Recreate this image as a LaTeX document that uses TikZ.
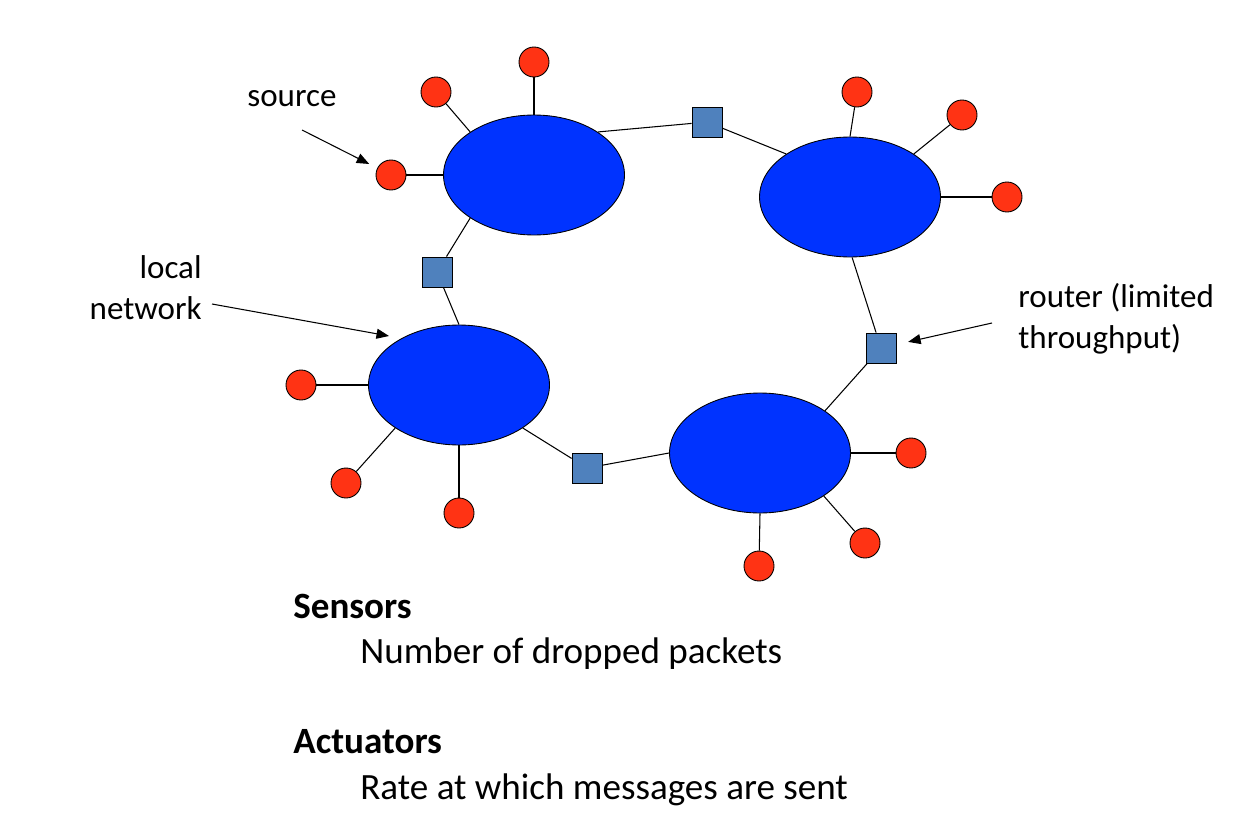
\documentclass[tikz,border=0pt]{standalone}
\usepackage{fontspec}
\setmainfont{Carlito}
\usetikzlibrary{arrows.meta,shapes.geometric}
\definecolor{netblue}{RGB}{0,51,255}
\definecolor{srcred}{RGB}{255,51,20}
\definecolor{rtblue}{RGB}{79,129,189}
\begin{document}
\begin{tikzpicture}[x=0.02cm,y=-0.02cm,
  net/.style={ellipse, draw=black, line width=0.5pt, fill=netblue, minimum width=3.62cm, minimum height=2.4cm, inner sep=0},
  src/.style={circle, draw=black, line width=0.5pt, fill=srcred, minimum size=0.6cm, inner sep=0},
  rt/.style={rectangle, draw=black, line width=0.5pt, fill=rtblue, minimum size=0.6cm, inner sep=0},
  link/.style={line width=0.6pt},
  arr/.style={line width=0.6pt, -{Triangle[length=0.25cm,width=0.2cm]}},
  lbl/.style={inner sep=0, font=\fontsize{18.8}{22.9}\selectfont},
  big/.style={inner sep=0, font=\fontsize{21.1}{25}\selectfont},
  bigb/.style={inner sep=0, font=\fontsize{21.1}{25}\selectfont\bfseries}]
\useasboundingbox (0,0) rectangle (1243,828);
% local networks
\node[net] (e1) at (534,175) {};
\node[net] (e2) at (850,197) {};
\node[net] (e3) at (459,385) {};
\node[net] (e4) at (760,453) {};
% routers
\node[rt] (r1) at (707,122) {};
\node[rt] (r2) at (437,272) {};
\node[rt] (r3) at (881,348) {};
\node[rt] (r4) at (587,468) {};
% sources
\node[src] (a1) at (534,62) {};
\node[src] (a2) at (436,92) {};
\node[src] (a3) at (391,175) {};
\node[src] (b1) at (857,92) {};
\node[src] (b2) at (962,115) {};
\node[src] (b3) at (1007,197) {};
\node[src] (c1) at (301,385) {};
\node[src] (c2) at (346,483) {};
\node[src] (c3) at (459,513) {};
\node[src] (d1) at (911,453) {};
\node[src] (d2) at (865,543) {};
\node[src] (d3) at (759,566) {};
% links
\draw[link] (a1) -- (e1.90);
\draw[link] (a2) -- (e1.146);
\draw[link] (a3) -- (e1.180);
\draw[link] (e1.34) -- (r1);
\draw[link] (r1) -- (e2.146);
\draw[link] (e1.214) -- (r2);
\draw[link] (r2) -- (e3.90);
\draw[link] (b1) -- (e2.90);
\draw[link] (b2) -- (e2.34);
\draw[link] (b3) -- (e2.0);
\draw[link] (e2.272) -- (r3);
\draw[link] (r3) -- (e4.33);
\draw[link] (e3.326) -- (r4);
\draw[link] (r4) -- (e4.180);
\draw[link] (c1) -- (e3.180);
\draw[link] (c2) -- (e3.214);
\draw[link] (c3) -- (e3.270);
\draw[link] (d1) -- (e4.0);
\draw[link] (d2) -- (e4.326);
\draw[link] (d3) -- (e4.270);
% labels
\node[lbl, anchor=base west] (tsrc) at (247,107) {source};
\node[lbl, align=right, anchor=base east] (tln) at (202,319) {local\\network};
\node[lbl, align=left, anchor=base west] (trt) at (1018,348) {router (limited\\throughput)};
\coordinate (srcfrom) at (302,130);
\draw[arr, shorten >=0.18cm] (srcfrom) -- (a3);
\coordinate (lnfrom) at (212,304);
\coordinate (lnto) at (389,336);
\draw[arr] (lnfrom) -- (lnto);
\coordinate (rtfrom) at (992,323);
\draw[arr, shorten >=0.24cm] (rtfrom) -- (r3);
% bottom text
\node[bigb, anchor=base west] (sens) at (293,618) {Sensors};
\node[big, anchor=base west] (sensd) at (360,663) {Number of dropped packets};
\node[bigb, anchor=base west] (act) at (293,753) {Actuators};
\node[big, anchor=base west] (actd) at (360,799) {Rate at which messages are sent};
\end{tikzpicture}
\end{document}
